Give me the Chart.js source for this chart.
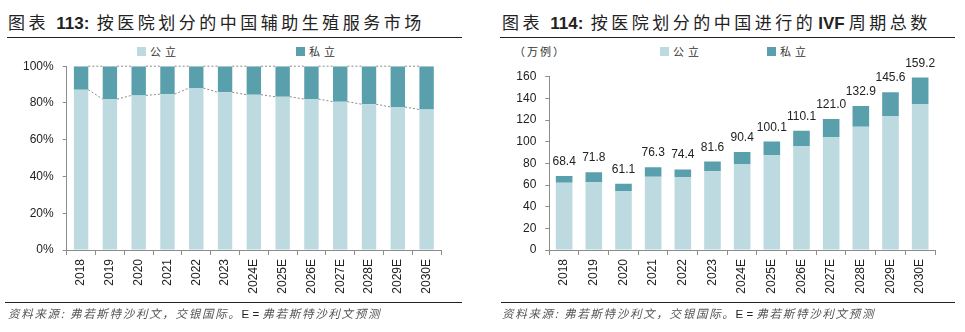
<!DOCTYPE html>
<html><head><meta charset="utf-8">
<script src="https://cdn.jsdelivr.net/npm/chart.js@4"></script>
<style>
body{margin:0;background:#fff;width:965px;height:332px;position:relative;overflow:hidden;font-family:"Noto Sans CJK SC",sans-serif;color:#222}
.title{position:absolute;top:12px;font-size:17px;line-height:20px;letter-spacing:3.5px;white-space:nowrap}
.title b{font-family:"Liberation Sans",sans-serif;font-weight:bold;letter-spacing:0}
.rule{position:absolute;height:0;border-top:1.5px solid #222}
.leg{position:absolute;top:44px;font-size:11px;line-height:14px;letter-spacing:4px;white-space:nowrap;color:#333}
.sw{position:absolute;width:9px;height:9px;top:47px}
.src{position:absolute;top:306px;font-size:11.5px;line-height:15px;color:#555;font-style:italic;white-space:nowrap;letter-spacing:1.7px}
.src b{font-family:"Liberation Sans",sans-serif;font-style:normal;font-weight:normal;color:#222;letter-spacing:0}
canvas{position:absolute}
</style>
</head><body>
<div class="title" style="left:8px">图表 <b>113:</b> 按医院划分的中国辅助生殖服务市场</div>
<div class="rule" style="left:7px;width:455px;top:37px"></div>
<div class="title" style="left:502px">图表 <b>114:</b> 按医院划分的中国进行的<b style="margin:0 4px 0 2px">IVF</b>周期总数</div>
<div class="rule" style="left:500px;width:455px;top:37px"></div>

<div class="sw" style="left:137px;background:#bcdadf"></div><div class="leg" style="left:150px">公立</div>
<div class="sw" style="left:296px;background:#5a9fac"></div><div class="leg" style="left:309px">私立</div>
<div class="leg" style="left:514px;letter-spacing:2px">（万例）</div>
<div class="sw" style="left:660px;background:#bcdadf"></div><div class="leg" style="left:673px">公立</div>
<div class="sw" style="left:767px;background:#5a9fac"></div><div class="leg" style="left:780px">私立</div>

<canvas id="share" width="460" height="256" style="left:0;top:50px"></canvas>
<canvas id="ivf" width="475" height="250" style="left:480px;top:56px"></canvas>

<div class="rule" style="left:5px;width:457px;top:302px;border-top-width:1px"></div>
<div class="rule" style="left:501px;width:454px;top:302px;border-top-width:1px"></div>
<div class="src" style="left:8px">资料来源: 弗若斯特沙利文，交银国际。<b>E = </b>弗若斯特沙利文预测</div>
<div class="src" style="left:502px">资料来源: 弗若斯特沙利文，交银国际。<b>E = </b>弗若斯特沙利文预测</div>

<script>
// Years shared by both charts
const years = ['2018','2019','2020','2021','2022','2023','2024E','2025E','2026E','2027E','2028E','2029E','2030E'];

// Market share by hospital type (%)
const publicSharePct = [87.2, 82.1, 84.1, 84.8, 88.1, 85.8, 84.5, 83.4, 82.1, 80.7, 79.3, 77.8, 76.4];
const privateSharePct = publicSharePct.map(v => +(100 - v).toFixed(1));

// IVF cycles (10k cycles): totals and public part
const ivfTotal = [68.4, 71.8, 61.1, 76.3, 74.4, 81.6, 90.4, 100.1, 110.1, 121.0, 132.9, 145.6, 159.2];
const ivfPublic = [62.1, 62.8, 54.5, 67.7, 67.5, 72.6, 79.4, 87.7, 96.0, 104.3, 113.8, 123.7, 134.8];
const ivfPrivate = ivfTotal.map((t, i) => +(t - ivfPublic[i]).toFixed(1));

const PUBLIC = '#bcdadf', PRIVATE = '#5a9fac', AXIS = '#8c8c8c', TEXT = '#222';
const tickFont = {family: '"Liberation Sans", Arial, sans-serif', size: 12};

function xAxis() {
  return {
    stacked: true,
    grid: {offset: true, drawOnChartArea: false, tickLength: 5, color: AXIS},
    border: {color: AXIS},
    ticks: {minRotation: 90, maxRotation: 90, padding: 4, font: tickFont, color: TEXT, autoSkip: false},
    afterFit: s => { s.height = 56; }
  };
}
function yAxis(max, width, fmt) {
  return {
    stacked: true, min: 0, max: max,
    grid: {drawOnChartArea: false, tickLength: 4, color: AXIS},
    border: {color: AXIS},
    ticks: {stepSize: 20, padding: 9, font: tickFont, color: TEXT, callback: fmt},
    afterFit: s => { s.width = width; }
  };
}

// Dotted connectors between neighbouring stacks
const seriesLines = {
  id: 'seriesLines',
  afterDatasetsDraw(chart) {
    const ctx = chart.ctx;
    ctx.save();
    ctx.strokeStyle = '#8a8a8a';
    ctx.lineWidth = 1;
    ctx.setLineDash([2, 2]);
    chart.data.datasets.forEach((ds, d) => {
      const bars = chart.getDatasetMeta(d).data;
      for (let i = 0; i < bars.length - 1; i++) {
        const a = bars[i], b = bars[i + 1];
        ctx.beginPath();
        ctx.moveTo(a.x + a.width / 2, a.y);
        ctx.lineTo(b.x - b.width / 2, b.y);
        ctx.stroke();
      }
    });
    ctx.restore();
  }
};

// Total labels above stacks
const totalLabels = {
  id: 'totalLabels',
  afterDatasetsDraw(chart) {
    const ctx = chart.ctx;
    const top = chart.getDatasetMeta(1).data;
    ctx.save();
    ctx.font = '12px "Liberation Sans", Arial, sans-serif';
    ctx.fillStyle = TEXT;
    ctx.textAlign = 'center';
    ctx.textBaseline = 'alphabetic';
    top.forEach((bar, i) => {
      ctx.fillText(ivfTotal[i].toFixed(1), bar.x, bar.y - 11);
    });
    ctx.restore();
  }
};

const common = {
  responsive: false, animation: false, devicePixelRatio: 1,
  plugins: {legend: {display: false}, tooltip: {enabled: false}}
};

new Chart(document.getElementById('share'), {
  type: 'bar',
  data: {
    labels: years,
    datasets: [
      {label: '公立', data: publicSharePct, backgroundColor: PUBLIC, barPercentage: 0.5, categoryPercentage: 1},
      {label: '私立', data: privateSharePct, backgroundColor: PRIVATE, barPercentage: 0.5, categoryPercentage: 1}
    ]
  },
  options: Object.assign({}, common, {
    layout: {padding: {left: 0, right: 19, top: 16, bottom: 0}},
    scales: {x: xAxis(), y: yAxis(100, 66.7, v => v + '%')}
  }),
  plugins: [seriesLines]
});

new Chart(document.getElementById('ivf'), {
  type: 'bar',
  data: {
    labels: years,
    datasets: [
      {label: '公立', data: ivfPublic, backgroundColor: PUBLIC, barPercentage: 0.56, categoryPercentage: 1},
      {label: '私立', data: ivfPrivate, backgroundColor: PRIVATE, barPercentage: 0.56, categoryPercentage: 1}
    ]
  },
  options: Object.assign({}, common, {
    layout: {padding: {left: 0, right: 20, top: 20.7, bottom: 0}},
    scales: {x: xAxis(), y: yAxis(160, 69.3, v => v)}
  }),
  plugins: [totalLabels]
});
</script>
</body></html>
